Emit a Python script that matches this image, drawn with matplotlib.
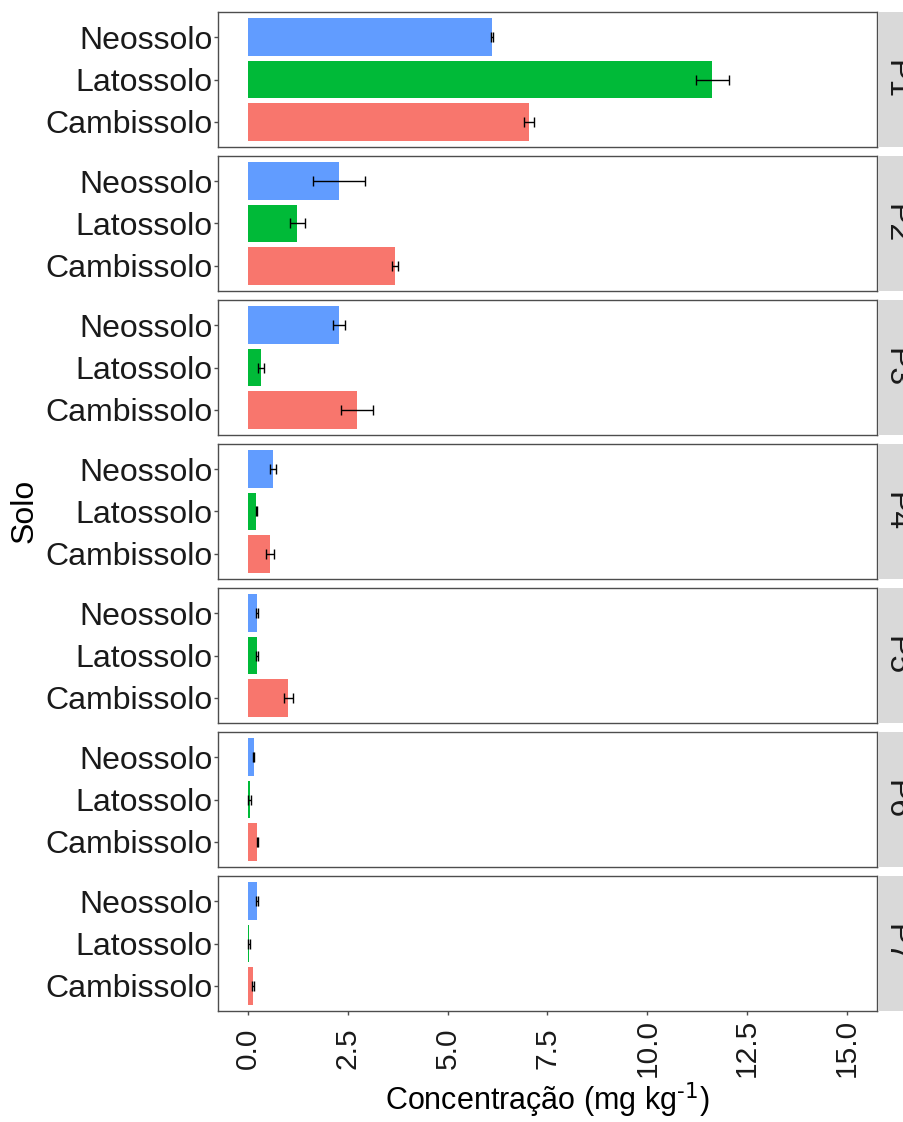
import matplotlib
matplotlib.use("Agg")
import matplotlib.pyplot as plt
import numpy as np

plt.rcParams["font.family"] = ["Liberation Sans", "DejaVu Sans"]

# soil classes, bottom to top in each panel
solos = ["Cambissolo", "Latossolo", "Neossolo"]
cores = ["#F8766D", "#00BA38", "#619CFF"]
perfis = ["P1", "P2", "P3", "P4", "P5", "P6", "P7"]

# mean concentration (mg/kg), order: Cambissolo, Latossolo, Neossolo
media = [
    [7.04, 11.63, 6.11],
    [3.68, 1.24, 2.28],
    [2.73, 0.33, 2.29],
    [0.55, 0.21, 0.63],
    [1.01, 0.23, 0.23],
    [0.23, 0.04, 0.14],
    [0.12, 0.03, 0.22],
]
# error bar half widths
erro = [
    [0.12, 0.42, 0.02],
    [0.08, 0.18, 0.66],
    [0.40, 0.07, 0.15],
    [0.09, 0.02, 0.08],
    [0.12, 0.03, 0.03],
    [0.01, 0.03, 0.02],
    [0.03, 0.03, 0.02],
]
xticks = [0.0, 2.5, 5.0, 7.5, 10.0, 12.5, 15.0]

W, H = 904, 1122
fig = plt.figure(figsize=(W / 100, H / 100), dpi=100)

left, right = 218, 877
top0, ph, gap = 12, 135, 9
strip_w = 46
FS = 23
PX = 72 / 100  # points per pixel

y = np.arange(len(solos))
for k, p in enumerate(perfis):
    top = top0 + k * (ph + gap)
    ax = fig.add_axes([left / W, 1 - (top + ph) / H, (right - left) / W, ph / H])
    ax.barh(y, media[k], height=0.9, color=cores, zorder=2)
    ax.errorbar(media[k], y, xerr=erro[k], fmt="none", ecolor="black",
                elinewidth=1.0, capsize=3.5, capthick=1.0, zorder=3)
    ax.set_xlim(-0.75, 15.75)
    ax.set_ylim(-0.6, 2.6)
    ax.set_yticks(y)
    ax.set_yticklabels(solos, fontsize=FS, color="#1a1a1a")
    for s in ax.spines.values():
        s.set_color("#4d4d4d")
        s.set_linewidth(1.0)
    ax.tick_params(axis="y", length=4 * PX, width=1, color="#4d4d4d", pad=1.5 * PX)
    ax.set_xticks(xticks)
    if k < len(perfis) - 1:
        ax.tick_params(axis="x", length=0, labelbottom=False)
    else:
        ax.set_xticklabels([f"{v:.1f}" for v in xticks], rotation=90, fontsize=21.5,
                           color="#1a1a1a", va="center", ha="center")
        ax.tick_params(axis="x", length=4 * PX, width=1, color="#4d4d4d", pad=33 * PX)

    # facet strip on the right (cut by the figure edge, as in the original)
    sax = fig.add_axes([(right + 1) / W, 1 - (top + ph) / H, strip_w / W, ph / H])
    sax.set_facecolor("#D9D9D9")
    sax.set_xticks([])
    sax.set_yticks([])
    for s in sax.spines.values():
        s.set_visible(False)
    fig.text(880 / W, 1 - (top + ph / 2) / H, p, rotation=-90, ha="left", va="center",
             fontsize=FS, color="#1a1a1a")

fig.text(25 / W, 1 - 511 / H, "Solo", rotation=90, ha="center", va="center", fontsize=FS)
fig.text(547 / W, 1 - 1100 / H, "Concentração (mg kg$^{\\text{-1}}$)",
         ha="center", va="center", fontsize=22)

fig.savefig("out.png", dpi=100, facecolor="white")
